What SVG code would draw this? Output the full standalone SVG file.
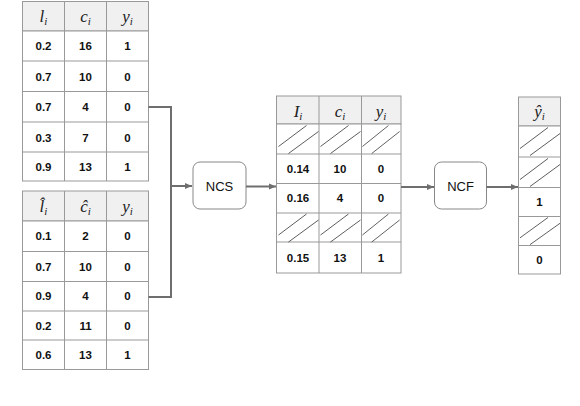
<svg xmlns="http://www.w3.org/2000/svg" width="580" height="406" viewBox="0 0 580 406">
<style>
.cell{fill:#fff;stroke:#999;stroke-width:1}
.hd{fill:#f0f0f0;stroke:#999;stroke-width:1}
.t{font-family:"Liberation Sans",Arial,sans-serif;font-weight:bold;font-size:11.5px;fill:#111;text-anchor:middle}
.m{font-family:"Liberation Serif","Times New Roman",serif;font-style:italic;font-size:17px;fill:#222;text-anchor:middle}
.sub{font-size:11px}
.box{fill:#fff;stroke:#888;stroke-width:1}
.bl{font-family:"Liberation Sans",Arial,sans-serif;font-size:13px;fill:#111;text-anchor:middle}
.c{fill:none;stroke:#6e6e6e;stroke-width:2}
.h{stroke:#333;stroke-width:0.8}
.g{stroke:#999;stroke-width:1}
</style>
<defs>
<marker id="a" markerWidth="8" markerHeight="8" refX="7" refY="4" orient="auto" markerUnits="userSpaceOnUse">
<path d="M0,1 L7,4 L0,7 z" fill="#6e6e6e"/>
</marker>
<g id="hatch">
<line class="h" x1="1" y1="22" x2="29" y2="1"/>
<line class="h" x1="11" y1="29" x2="41" y2="7"/>
</g>
</defs>

<g id="table1">
<rect class="hd" x="22.5" y="1.5" width="126" height="29.5"/>
<rect class="cell" x="22.5" y="31" width="126" height="150"/>
<g class="g"><line x1="22.5" y1="61" x2="148.5" y2="61"/><line x1="22.5" y1="91.5" x2="148.5" y2="91.5"/><line x1="22.5" y1="122" x2="148.5" y2="122"/><line x1="22.5" y1="152" x2="148.5" y2="152"/>
<line x1="64.5" y1="1.5" x2="64.5" y2="181"/><line x1="106.5" y1="1.5" x2="106.5" y2="181"/></g>
<text class="m" x="43.5" y="22">l<tspan class="sub" dy="3">i</tspan></text>
<text class="m" x="85.5" y="22">c<tspan class="sub" dy="3">i</tspan></text>
<text class="m" x="127.5" y="22">y<tspan class="sub" dy="3">i</tspan></text>
<text class="t" x="43.5" y="50">0.2</text><text class="t" x="85.5" y="50">16</text><text class="t" x="127.5" y="50">1</text>
<text class="t" x="43.5" y="80.5">0.7</text><text class="t" x="85.5" y="80.5">10</text><text class="t" x="127.5" y="80.5">0</text>
<text class="t" x="43.5" y="111">0.7</text><text class="t" x="85.5" y="111">4</text><text class="t" x="127.5" y="111">0</text>
<text class="t" x="43.5" y="141.5">0.3</text><text class="t" x="85.5" y="141.5">7</text><text class="t" x="127.5" y="141.5">0</text>
<text class="t" x="43.5" y="170.5">0.9</text><text class="t" x="85.5" y="170.5">13</text><text class="t" x="127.5" y="170.5">1</text>
</g>

<g id="table2">
<rect class="hd" x="22.5" y="191" width="126" height="30"/>
<rect class="cell" x="22.5" y="221" width="126" height="148.5"/>
<g class="g"><line x1="22.5" y1="251.5" x2="148.5" y2="251.5"/><line x1="22.5" y1="281.5" x2="148.5" y2="281.5"/><line x1="22.5" y1="311" x2="148.5" y2="311"/><line x1="22.5" y1="340" x2="148.5" y2="340"/>
<line x1="64.5" y1="191" x2="64.5" y2="369.5"/><line x1="106.5" y1="191" x2="106.5" y2="369.5"/></g>
<text class="m" x="43.5" y="212">l̂<tspan class="sub" dy="3">i</tspan></text>
<text class="m" x="85.5" y="212">ĉ<tspan class="sub" dy="3">i</tspan></text>
<text class="m" x="127.5" y="212">y<tspan class="sub" dy="3">i</tspan></text>
<text class="t" x="43.5" y="240">0.1</text><text class="t" x="85.5" y="240">2</text><text class="t" x="127.5" y="240">0</text>
<text class="t" x="43.5" y="270.5">0.7</text><text class="t" x="85.5" y="270.5">10</text><text class="t" x="127.5" y="270.5">0</text>
<text class="t" x="43.5" y="300">0.9</text><text class="t" x="85.5" y="300">4</text><text class="t" x="127.5" y="300">0</text>
<text class="t" x="43.5" y="329.5">0.2</text><text class="t" x="85.5" y="329.5">11</text><text class="t" x="127.5" y="329.5">0</text>
<text class="t" x="43.5" y="359">0.6</text><text class="t" x="85.5" y="359">13</text><text class="t" x="127.5" y="359">1</text>
</g>

<g id="ncs">
<rect class="box" x="193" y="162" width="53" height="47" rx="7"/>
<text class="bl" x="219.5" y="190.5">NCS</text>
</g>

<g id="table3">
<rect class="hd" x="276.5" y="96" width="124.5" height="28"/>
<rect class="cell" x="276.5" y="124" width="124.5" height="149"/>
<g class="g"><line x1="276.5" y1="154" x2="401" y2="154"/><line x1="276.5" y1="183.5" x2="401" y2="183.5"/><line x1="276.5" y1="213" x2="401" y2="213"/><line x1="276.5" y1="242" x2="401" y2="242"/>
<line x1="319" y1="96" x2="319" y2="273"/><line x1="361.5" y1="96" x2="361.5" y2="273"/></g>
<use href="#hatch" transform="translate(277.5,124.5)"/>
<use href="#hatch" transform="translate(319.5,124.5)"/>
<use href="#hatch" transform="translate(361.5,124.5) scale(0.93,1)"/>
<use href="#hatch" transform="translate(277.5,213)"/>
<use href="#hatch" transform="translate(319.5,213)"/>
<use href="#hatch" transform="translate(361.5,213) scale(0.93,1)"/>
<text class="m" x="298" y="117">I<tspan class="sub" dy="3">i</tspan></text>
<text class="m" x="340" y="117">c<tspan class="sub" dy="3">i</tspan></text>
<text class="m" x="381" y="117">y<tspan class="sub" dy="3">i</tspan></text>
<text class="t" x="298" y="172.5">0.14</text><text class="t" x="340" y="172.5">10</text><text class="t" x="381" y="172.5">0</text>
<text class="t" x="298" y="202">0.16</text><text class="t" x="340" y="202">4</text><text class="t" x="381" y="202">0</text>
<text class="t" x="298" y="261.5">0.15</text><text class="t" x="340" y="261.5">13</text><text class="t" x="381" y="261.5">1</text>
</g>

<g id="ncf">
<rect class="box" x="434.5" y="162" width="52" height="47" rx="7"/>
<text class="bl" x="460.5" y="190.5">NCF</text>
</g>

<g id="table4">
<rect class="hd" x="518.5" y="97" width="42" height="29"/>
<rect class="cell" x="518.5" y="126" width="42" height="148"/>
<g class="g"><line x1="518.5" y1="157" x2="560.5" y2="157"/><line x1="518.5" y1="187.5" x2="560.5" y2="187.5"/><line x1="518.5" y1="216.5" x2="560.5" y2="216.5"/><line x1="518.5" y1="245.5" x2="560.5" y2="245.5"/></g>
<use href="#hatch" transform="translate(519,126.5)"/>
<use href="#hatch" transform="translate(519,157.5)"/>
<use href="#hatch" transform="translate(519,216.5) scale(1,0.97)"/>
<text class="m" x="539.5" y="117">ŷ<tspan class="sub" dy="3">i</tspan></text>
<text class="t" x="539.5" y="206">1</text>
<text class="t" x="539.5" y="264">0</text>
</g>

<g id="connectors">
<path class="c" d="M148.5,107 H171 V297 H148.5"/>
<path class="c" d="M171,186 H192" marker-end="url(#a)"/>
<path class="c" d="M246,186.5 H276" marker-end="url(#a)"/>
<path class="c" d="M401,187 H434" marker-end="url(#a)"/>
<path class="c" d="M486.5,187 H518" marker-end="url(#a)"/>
</g>
</svg>
